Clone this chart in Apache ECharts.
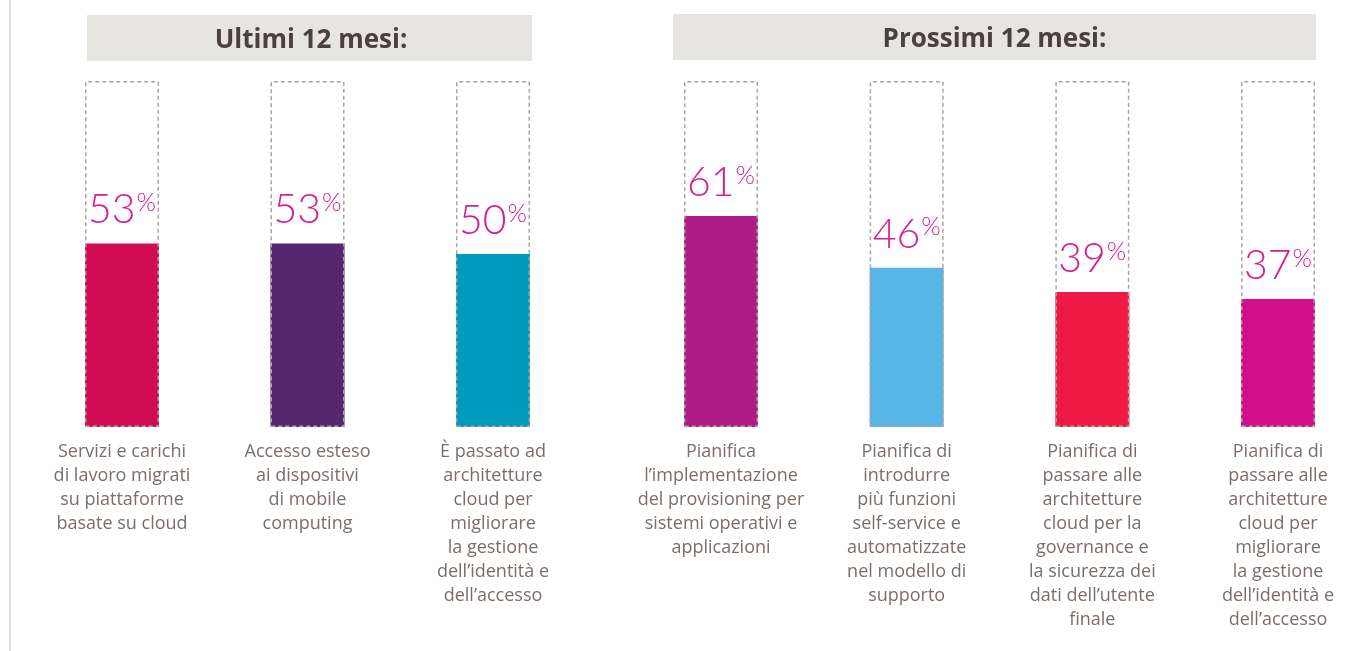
<!DOCTYPE html>
<html>
<head>
<meta charset="utf-8">
<script src="https://cdn.jsdelivr.net/npm/echarts@6/dist/echarts.min.js"></script>
<style>
html,body{margin:0;padding:0;background:#fff;}
#chart{width:1360px;height:651px;}
</style>
</head>
<body>
<div id="chart"></div>
<script>
// ---- data ----
const headerLeft = 'Ultimi 12 mesi:';
const headerRight = 'Prossimi 12 mesi:';
const catsLeft = [
  'Servizi e carichi\ndi lavoro migrati\nsu piattaforme\nbasate su cloud',
  'Accesso esteso\nai dispositivi\ndi mobile\ncomputing',
  'È passato ad\narchitetture\ncloud per\nmigliorare\nla gestione\ndell’identità e\ndell’accesso'
];
const valuesLeft = [53, 53, 50];
const colorsLeft = ['#D20C52', '#56266E', '#009ABF'];
const catsRight = [
  'Pianifica\nl’implementazione\ndel provisioning per\nsistemi operativi e\napplicazioni',
  'Pianifica di\nintrodurre\npiù funzioni\nself-service e\nautomatizzate\nnel modello di\nsupporto',
  'Pianifica di\npassare alle\narchitetture\ncloud per la\ngovernance e\nla sicurezza dei\ndati dell’utente\nfinale',
  'Pianifica di\npassare alle\narchitetture\ncloud per\nmigliorare\nla gestione\ndell’identità e\ndell’accesso'
];
const valuesRight = [61, 46, 39, 37];
const colorsRight = ['#B01C87', '#57B6E6', '#EF1A43', '#D30E8C'];
const fullScale = 100;

// ---- chart ----
const chart = echarts.init(document.getElementById('chart'));
const textColor = '#7a6e69';
const pctColor = '#D6208E';
const font = "'Open Sans', 'Noto Sans', sans-serif";
const numFont = "'Lato', 'Open Sans', sans-serif";

function xAxis(idx, cats) {
  return {
    type: 'category', gridIndex: idx, data: cats, boundaryGap: false,
    axisLine: {show: false}, axisTick: {show: false}, splitLine: {show: false},
    axisLabel: {
      interval: 0, margin: 13, color: textColor, fontSize: 18, lineHeight: 24,
      fontFamily: font, align: 'center', verticalAlign: 'top'
    }
  };
}
function yAxis(idx) {
  return {type: 'value', gridIndex: idx, min: 0, max: fullScale, show: false};
}
function dataSeries(idx, vals, colors) {
  return {
    type: 'bar', xAxisIndex: idx, yAxisIndex: idx, barWidth: 74, barGap: '-100%',
    data: vals.map((v, i) => ({value: v, itemStyle: {color: colors[i]}})),
    label: {
      show: true, position: 'top', distance: 13,
      formatter: p => '{n|' + p.value + '}{p|%}',
      rich: {
        n: {fontSize: 41, fontWeight: 300, color: pctColor, fontFamily: numFont, lineHeight: 40, verticalAlign: 'bottom'},
        p: {fontSize: 25, fontWeight: 300, color: pctColor, fontFamily: numFont, lineHeight: 24, verticalAlign: 'top', padding: [0, 0, 0, 1]}
      }
    },
    silent: true, z: 2
  };
}
function frameSeries(idx, n) {
  return {
    type: 'bar', xAxisIndex: idx, yAxisIndex: idx, barWidth: 74, barGap: '-100%',
    data: new Array(n).fill(fullScale),
    itemStyle: {color: 'rgba(0,0,0,0)', borderColor: '#aaa5a2', borderWidth: 1.5, borderType: [4, 3]},
    silent: true, z: 3
  };
}

const option = {
  backgroundColor: '#ffffff',
  animation: false,
  grid: [
    {left: 122, right: 867, top: 81, bottom: 224},
    {left: 721, right: 82, top: 81, bottom: 224}
  ],
  xAxis: [xAxis(0, catsLeft), xAxis(1, catsRight)],
  yAxis: [yAxis(0), yAxis(1)],
  series: [
    dataSeries(0, valuesLeft, colorsLeft), frameSeries(0, valuesLeft.length),
    dataSeries(1, valuesRight, colorsRight), frameSeries(1, valuesRight.length)
  ],
  graphic: [
    {type: 'line', shape: {x1: 10, y1: 0, x2: 10, y2: 651}, style: {stroke: '#e0dcd6', lineWidth: 2}, silent: true},
    {type: 'rect', shape: {x: 87, y: 15, width: 445, height: 46}, style: {fill: '#e6e5e1'}, silent: true},
    {type: 'text', x: 311, y: 41, style: {text: headerLeft, fill: '#4a403d', font: "bold 26px 'Open Sans', sans-serif", textAlign: 'center', textVerticalAlign: 'middle'}, silent: true},
    {type: 'rect', shape: {x: 673, y: 14, width: 643, height: 46}, style: {fill: '#e6e5e1'}, silent: true},
    {type: 'text', x: 994.5, y: 40, style: {text: headerRight, fill: '#4a403d', font: "bold 26px 'Open Sans', sans-serif", textAlign: 'center', textVerticalAlign: 'middle'}, silent: true}
  ]
};
chart.setOption(option);
</script>
</body>
</html>
